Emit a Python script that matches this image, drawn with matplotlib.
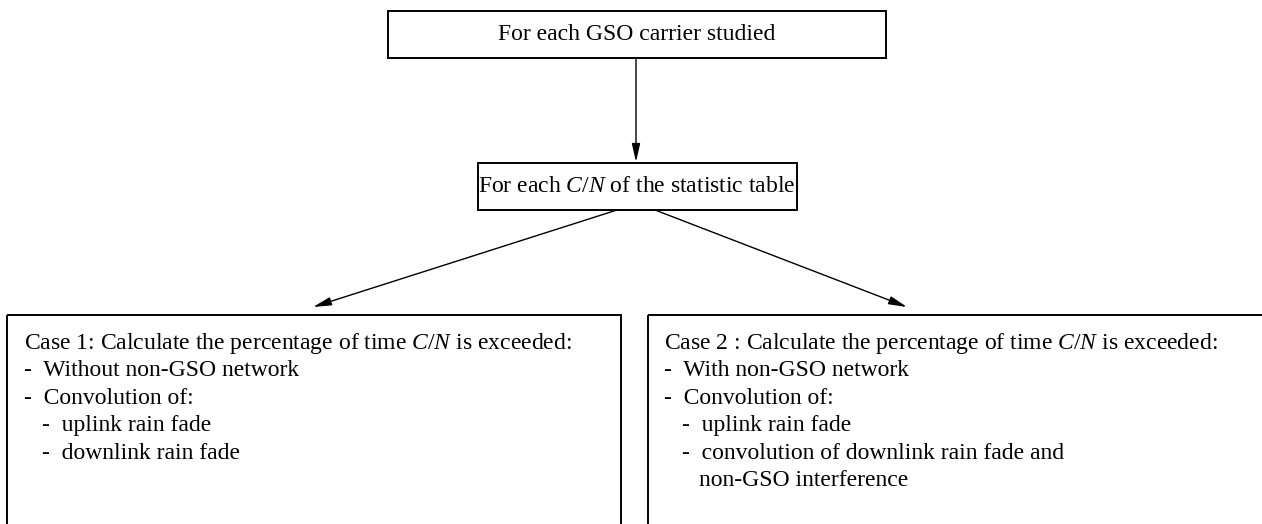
import matplotlib.pyplot as plt
from matplotlib.patches import Rectangle

plt.rcParams['font.family'] = ['Liberation Serif', 'DejaVu Serif']
plt.rcParams['mathtext.fontset'] = 'custom'
plt.rcParams['mathtext.rm'] = 'Liberation Serif'
plt.rcParams['mathtext.it'] = 'Liberation Serif:italic'

top_label = "For each GSO carrier studied"
mid_label = r"For each $C/N$ of the statistic table"

case1_lines = [
    (0, r"Case 1: Calculate the percentage of time $C/N$ is exceeded:"),
    (0, "-  Without non-GSO network"),
    (0, "-  Convolution of:"),
    (1, "-  uplink rain fade"),
    (1, "-  downlink rain fade"),
]
case2_lines = [
    (0, r"Case 2 : Calculate the percentage of time $C/N$ is exceeded:"),
    (0, "-  With non-GSO network"),
    (0, "-  Convolution of:"),
    (1, "-  uplink rain fade"),
    (1, "-  convolution of downlink rain fade and"),
    (2, "non-GSO interference"),
]

W, H = 1262, 524
fig = plt.figure(figsize=(W / 100, H / 100), dpi=100)
ax = fig.add_axes([0, 0, 1, 1])
ax.set_xlim(0, W)
ax.set_ylim(H, 0)
ax.axis('off')

FS = 17
LW = 1.4


def box(x0, y0, x1, y1):
    ax.add_patch(Rectangle((x0, y0), x1 - x0, y1 - y0, fill=False,
                           edgecolor='black', linewidth=LW, clip_on=True))


def arrow(x0, y0, x1, y1):
    ax.annotate("", xy=(x1, y1), xytext=(x0, y0),
                arrowprops=dict(arrowstyle='-|>,head_length=1.1,head_width=0.25',
                                color='black', lw=1.0, shrinkA=0, shrinkB=0))


# boxes
box(388, 11, 886, 58)
box(478, 163, 797, 210)
box(7, 315, 621, 560)
box(648, 315, 1290, 560)

ax.text(637, 34, top_label, fontsize=FS, ha='center', va='center')
ax.text(637, 187, mid_label, fontsize=FS, ha='center', va='center')

# arrows
arrow(636, 58, 636, 162)
arrow(617, 210, 313, 307)
arrow(655, 210, 907, 307)

indent = [0, 18, 35]
for (x0, lines) in [(24, case1_lines), (664, case2_lines)]:
    for i, (lvl, txt) in enumerate(lines):
        ax.text(x0 + indent[lvl], 343 + i * 27.6, txt, fontsize=FS,
                ha='left', va='center')

fig.savefig('out.png', dpi=100)
